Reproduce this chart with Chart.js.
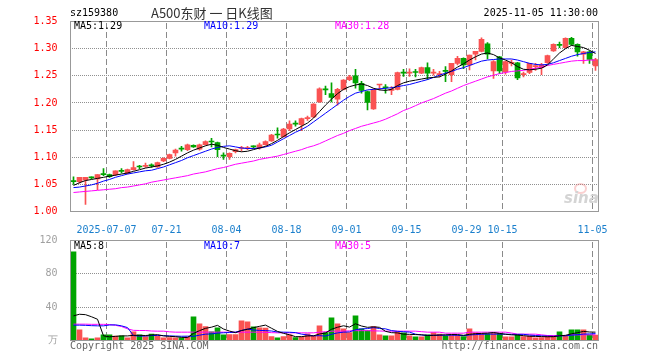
<!DOCTYPE html>
<html>
<head>
<meta charset="utf-8">
<script src="https://cdn.jsdelivr.net/npm/chart.js@4.4.1/dist/chart.umd.min.js"></script>
<style>
  body { margin: 0; background: #fff; }
  #wrap { position: relative; width: 660px; height: 360px; overflow: hidden; font-family: 'DejaVu Sans Mono', monospace; font-size: 10px; }
  canvas { position: absolute; left: 0; }
  .t { position: absolute; white-space: nowrap; line-height: 12px; }
</style>
</head>
<body>
<div id="wrap">
  <canvas id="kline" width="660" height="236" style="top:0"></canvas>
  <canvas id="vol" width="660" height="134" style="top:226px"></canvas>

  <div class="t" style="left:70px;top:7px;color:#000">sz159380</div>
  <div class="t" style="left:151px;top:5px;color:#333;font-family:'Noto Sans CJK SC';font-size:13px;line-height:16px">A500东财 一 日K线图</div>
  <div class="t" style="right:62px;top:7px;color:#000">2025-11-05 11:30:00</div>

  <div class="t" style="left:74px;top:20px;color:#000">MA5:1.29</div>
  <div class="t" style="left:204px;top:20px;color:#0000ff">MA10:1.29</div>
  <div class="t" style="left:335px;top:20px;color:#ff00ff">MA30:1.28</div>

  <div class="t" style="left:74px;top:240px;color:#000">MA5:8</div>
  <div class="t" style="left:204px;top:240px;color:#0000ff">MA10:7</div>
  <div class="t" style="left:335px;top:240px;color:#ff00ff">MA30:5</div>

  <div style="position:absolute;left:574px;top:183px;width:9px;height:7px;border:2px solid rgba(240,120,120,0.35);border-radius:50%"></div>
  <div class="t" style="left:564px;top:190px;color:#d4d4d4;font-family:'DejaVu Sans';font-style:italic;font-weight:bold;font-size:15px;line-height:16px">sina</div>

  <div class="t" style="left:70px;top:340px;color:#666">Copyright 2025 SINA.COM</div>
  <div class="t" style="right:62px;top:340px;color:#666">http://finance.sina.com.cn</div>
</div>

<script>
// dates de cotation (jours ouvrés)
const dates = ['06-27','06-30',
  '07-01','07-02','07-03','07-04','07-07','07-08','07-09','07-10','07-11','07-14','07-15','07-16','07-17','07-18',
  '07-21','07-22','07-23','07-24','07-25','07-28','07-29','07-30','07-31',
  '08-01','08-04','08-05','08-06','08-07','08-08','08-11','08-12','08-13','08-14','08-15',
  '08-18','08-19','08-20','08-21','08-22','08-25','08-26','08-27','08-28','08-29',
  '09-01','09-02','09-03','09-04','09-05','09-08','09-09','09-10','09-11','09-12',
  '09-15','09-16','09-17','09-18','09-19','09-22','09-23','09-24','09-25','09-26','09-29','09-30',
  '10-09','10-10','10-13','10-14','10-15','10-16','10-17','10-20','10-21','10-22','10-23','10-24',
  '10-27','10-28','10-29','10-30','10-31','11-03','11-04','11-05'];

const tickDates = ['07-07','07-21','08-04','08-18','09-01','09-15','09-29','10-15','11-05'];
const tickText  = ['2025-07-07','07-21','08-04','08-18','09-01','09-15','09-29','10-15','11-05'];

const opens = [1.056,1.055,1.058,1.063,1.060,1.069,1.068,1.068,1.075,1.070,
  1.077,1.083,1.083,1.085,1.082,1.093,1.098,1.108,1.116,1.114,
  1.122,1.115,1.123,1.129,1.127,1.103,1.101,1.110,1.116,1.116,
  1.120,1.117,1.123,1.130,1.142,1.138,1.152,1.162,1.160,1.171,
  1.174,1.202,1.225,1.217,1.207,1.225,1.243,1.250,1.236,1.221,
  1.189,1.233,1.229,1.223,1.225,1.256,1.255,1.257,1.255,1.265,
  1.255,1.252,1.259,1.252,1.273,1.282,1.270,1.290,1.295,1.309,
  1.259,1.285,1.257,1.273,1.274,1.252,1.256,1.267,1.265,1.274,
  1.296,1.307,1.302,1.319,1.308,1.290,1.294,1.268];
const highs = [1.064,1.063,1.063,1.064,1.068,1.079,1.069,1.075,1.079,1.078,
  1.092,1.085,1.089,1.088,1.091,1.099,1.106,1.115,1.120,1.124,
  1.123,1.124,1.130,1.135,1.128,1.108,1.108,1.115,1.120,1.120,
  1.121,1.126,1.130,1.142,1.154,1.153,1.167,1.167,1.172,1.176,
  1.199,1.228,1.231,1.237,1.227,1.243,1.251,1.262,1.240,1.222,
  1.226,1.234,1.234,1.230,1.257,1.262,1.263,1.262,1.266,1.274,
  1.262,1.258,1.267,1.273,1.286,1.283,1.288,1.295,1.320,1.311,
  1.278,1.286,1.277,1.279,1.275,1.257,1.273,1.273,1.273,1.288,
  1.309,1.312,1.320,1.321,1.309,1.295,1.296,1.282];
const lows = [1.050,1.052,1.013,1.060,1.040,1.066,1.063,1.066,1.071,1.069,
  1.076,1.079,1.081,1.081,1.081,1.092,1.097,1.102,1.111,1.112,
  1.118,1.113,1.122,1.119,1.101,1.096,1.096,1.108,1.111,1.114,
  1.116,1.115,1.122,1.129,1.135,1.137,1.149,1.157,1.149,1.168,
  1.173,1.201,1.215,1.202,1.196,1.224,1.241,1.227,1.218,1.187,
  1.188,1.224,1.218,1.215,1.224,1.249,1.249,1.248,1.254,1.243,
  1.251,1.248,1.239,1.239,1.270,1.263,1.261,1.279,1.294,1.281,
  1.245,1.254,1.253,1.268,1.243,1.248,1.254,1.260,1.252,1.273,
  1.295,1.302,1.301,1.306,1.286,1.273,1.273,1.260];
const closes = [1.055,1.063,1.063,1.062,1.068,1.068,1.064,1.075,1.074,1.077,
  1.081,1.082,1.084,1.084,1.090,1.098,1.105,1.113,1.115,1.123,
  1.119,1.123,1.129,1.128,1.114,1.102,1.107,1.114,1.117,1.117,
  1.119,1.123,1.129,1.141,1.141,1.152,1.161,1.161,1.171,1.172,
  1.198,1.226,1.224,1.210,1.225,1.242,1.248,1.237,1.223,1.201,
  1.225,1.234,1.228,1.224,1.256,1.255,1.256,1.256,1.265,1.255,
  1.256,1.253,1.258,1.273,1.282,1.270,1.288,1.295,1.317,1.290,
  1.276,1.259,1.276,1.274,1.246,1.253,1.273,1.268,1.270,1.287,
  1.308,1.306,1.319,1.308,1.294,1.294,1.280,1.280];

const ma5 = [1.048,1.053,1.057,1.059,1.061,1.063,1.065,1.067,1.069,1.071,
  1.074,1.077,1.080,1.082,1.084,1.087,1.091,1.096,1.102,1.108,
  1.113,1.117,1.121,1.124,1.122,1.118,1.115,1.112,1.110,1.111,
  1.114,1.117,1.120,1.125,1.131,1.138,1.145,1.151,1.157,1.163,
  1.172,1.184,1.196,1.207,1.217,1.225,1.230,1.233,1.235,1.232,
  1.227,1.224,1.223,1.225,1.232,1.237,1.240,1.242,1.244,1.246,
  1.247,1.248,1.253,1.259,1.266,1.272,1.279,1.285,1.290,1.292,
  1.289,1.283,1.279,1.274,1.267,1.262,1.261,1.262,1.264,1.270,
  1.281,1.292,1.300,1.306,1.304,1.302,1.297,1.291];
const ma10 = [1.044,1.045,1.047,1.049,1.052,1.056,1.059,1.063,1.066,1.069,
  1.071,1.073,1.075,1.076,1.079,1.082,1.086,1.090,1.094,1.099,
  1.103,1.107,1.111,1.115,1.118,1.120,1.121,1.119,1.117,1.116,
  1.116,1.117,1.119,1.122,1.128,1.134,1.140,1.146,1.151,1.157,
  1.165,1.173,1.181,1.189,1.197,1.205,1.212,1.218,1.221,1.224,
  1.225,1.226,1.227,1.228,1.230,1.232,1.234,1.237,1.240,1.243,
  1.247,1.251,1.255,1.258,1.262,1.265,1.269,1.273,1.277,1.279,
  1.280,1.281,1.281,1.281,1.279,1.276,1.273,1.271,1.270,1.271,
  1.274,1.278,1.282,1.286,1.289,1.291,1.293,1.294];
const ma30 = [1.035,1.036,1.037,1.038,1.039,1.040,1.041,1.042,1.044,1.045,
  1.047,1.049,1.051,1.054,1.056,1.058,1.060,1.062,1.064,1.066,
  1.069,1.071,1.073,1.076,1.079,1.081,1.084,1.087,1.089,1.091,
  1.093,1.096,1.098,1.100,1.102,1.105,1.108,1.111,1.114,1.118,
  1.121,1.125,1.130,1.135,1.140,1.144,1.149,1.153,1.157,1.160,
  1.163,1.166,1.170,1.175,1.180,1.186,1.190,1.195,1.200,1.204,
  1.208,1.213,1.218,1.222,1.227,1.232,1.236,1.240,1.244,1.248,
  1.251,1.254,1.256,1.258,1.259,1.260,1.262,1.264,1.266,1.269,
  1.271,1.273,1.275,1.277,1.278,1.278,1.279,1.279];

// volumes en 万
const volumes = [106.4,12.8,3.2,2,3.2,6.8,6.8,5.2,5.6,3.2,
  10.4,6.8,4.8,7.6,5.6,3.2,3.6,3.2,3.2,4.4,
  28.4,20,16.8,10.4,15.2,6.8,7.2,7.2,23.6,22.4,
  16.4,15.2,14.8,4.8,3.2,4.8,6.8,3.6,4.4,8,
  5.2,17.6,9.6,27.2,20,14,9.6,29.6,14,12,
  16.8,6.8,5.6,5.6,10.8,9.2,5.6,4.4,4.4,6.8,
  9.6,7.6,5.6,6.4,6.4,4.8,14,9.2,8,8,
  8.8,8.4,4.4,4.4,6.8,4.8,5.2,3.2,3.6,5.6,
  5.6,10.4,5.6,12.8,12.8,12.8,6.4,6.4];
const volMa5 = [29.6,31.5,31,28.5,25.5,5.6,4.4,5,5.5,5.5,
  6.2,6.2,6,6.6,7,5.6,5,4.6,3.8,3.5,
  8.6,11.8,14.6,16,18.2,13.8,11.3,9.4,12,13.4,
  15.4,17,18.5,14.7,10.9,8.6,6.9,4.6,4.6,5.5,
  5.6,7.8,9,13.5,15.9,17.7,16.1,20.1,17.4,15.8,
  16.4,15.8,11,9.4,9.1,7.6,7.4,7.1,6.9,6.1,
  6.2,6.6,6.8,7.2,7.1,6.2,7.4,8.2,8.5,8.8,
  9.6,8.5,7.5,6.8,6.6,5.8,5.1,4.9,4.7,4.5,
  4.6,5.7,6.2,8,9.4,10.9,10.2,10];
const volMa10 = [18.4,18.4,18.2,17.8,17.6,17.6,18.6,18.8,17.6,15.5,
  5.9,5.3,5.4,5.9,6.1,5.8,5.5,5.3,5.1,5.2,
  5,6.4,7.6,7.9,8.9,9.3,9.6,10,12,13.8,
  12.6,12.1,11.9,11.4,10.2,10,9.9,9.5,7.6,6.7,
  5.6,5.8,5.3,7.5,9.1,10,10.3,12.9,13.9,14.3,
  15.5,14.4,14,11.9,11,10.5,10.1,7.6,6.6,6.1,
  6.3,6.3,6.3,6.4,6.2,5.8,6.6,7.1,7.5,7.7,
  7.6,7.7,7.6,7.4,7.4,7.4,6.5,6,5.6,5.3,
  5,5.6,5.6,6.4,7,7.7,7.9,8.3];
const volMa30 = [19.6,19.6,19.6,19.4,19.4,19.4,19.2,18.2,16.8,14,
  12.2,12,12,11.4,11.2,11.2,10.4,10,10,10,
  10,10,10,10,10,10,10,10,10,10,
  10,10,9.8,9.4,9.2,9.2,9.2,9.2,9.2,9.2,
  9.2,10,10.6,11.2,11.2,11.2,11.6,11.8,11.8,11.8,
  11.6,11.4,11.2,11.2,11.2,11.2,11.2,11.2,10.6,10,
  10,10,8.8,8.8,8.8,8.8,10,10,10,10,
  10,10,10,9,7.6,7.6,7.6,7.6,6.8,6,
  6,6,6,6.8,6.8,6.8,6.8,6.8];

const RED = '#fa5252';
const GREEN = '#00a400';
const candleColors = closes.map((c, k) => c >= opens[k] ? RED : GREEN);

Chart.defaults.font.family = "'DejaVu Sans Mono', monospace";
Chart.defaults.font.size = 10;

// grille : tirets verticaux aux dates affichées, pointillés horizontaux aux graduations
const gridPlugin = {
  id: 'sinaGrid',
  beforeDatasetsDraw(chart) {
    const ctx = chart.ctx, a = chart.chartArea;
    const x = chart.scales.x, y = chart.scales.y;
    const half = (x.getPixelForValue(1) - x.getPixelForValue(0)) / 2;
    const top = Math.ceil(a.top), bottom = Math.floor(a.bottom);
    const left = Math.ceil(a.left), right = Math.floor(a.right);
    ctx.save();
    ctx.fillStyle = '#8a8a8a';
    for (let i = 0; i < dates.length; i++) {
      if (tickDates.indexOf(dates[i]) < 0) continue;
      const px = Math.floor(x.getPixelForValue(i) - half);
      for (let yy = top + 1; yy < bottom; yy += 9) {
        ctx.fillRect(px, yy, 1, Math.min(6, bottom - yy));
      }
    }
    ctx.fillStyle = '#909090';
    const yt = y.ticks;
    for (let k = 1; k < yt.length - 1; k++) {
      const py = Math.floor(y.getPixelForValue(yt[k].value));
      for (let xx = left + 1; xx < right; xx += 2) {
        ctx.fillRect(xx, py, 1, 1);
      }
    }
    ctx.restore();
  }
};

// cadre autour de la zone de tracé
const framePlugin = {
  id: 'frame',
  afterDraw(chart) {
    const ctx = chart.ctx, a = chart.chartArea;
    ctx.save();
    ctx.strokeStyle = '#999';
    ctx.lineWidth = 1;
    ctx.strokeRect(Math.floor(a.left) + 0.5, Math.floor(a.top) + 0.5,
      Math.floor(a.right) - Math.floor(a.left), Math.floor(a.bottom) - Math.floor(a.top));
    ctx.restore();
  }
};

function maLine(data, color) {
  return { type: 'line', data: data, borderColor: color, borderWidth: 1, pointRadius: 0, fill: false, tension: 0, order: 0 };
}

// graphique K
new Chart(document.getElementById('kline'), {
  type: 'bar',
  data: {
    labels: dates,
    datasets: [
      maLine(ma5, '#000000'),
      maLine(ma10, '#0000ff'),
      maLine(ma30, '#ff00ff'),
      { data: opens.map((o, k) => [o, closes[k]]), backgroundColor: candleColors, barThickness: 5, minBarLength: 1, grouped: false, order: 1 },
      { data: lows.map((l, k) => [l, highs[k]]), backgroundColor: candleColors, barThickness: 1, grouped: false, order: 2 }
    ]
  },
  options: {
    responsive: false,
    animation: false,
    devicePixelRatio: 1,
    layout: { padding: { top: 21.5, right: 61.5, left: 0, bottom: 0 } },
    plugins: { legend: { display: false }, tooltip: { enabled: false } },
    scales: {
      x: {
        grid: { display: false },
        border: { display: false },
        ticks: {
          autoSkip: false, maxRotation: 0, minRotation: 0, padding: 5, labelOffset: -3, color: '#1a7fcc',
          callback: (v, i) => { const k = tickDates.indexOf(dates[i]); return k >= 0 ? tickText[k] : ''; }
        },
        afterFit: s => { s.height = 24.5; }
      },
      y: {
        min: 1.00, max: 1.35,
        grid: { display: false },
        border: { display: false },
        ticks: { stepSize: 0.05, padding: 5, color: '#ff0000', callback: v => v.toFixed(2) },
        afterFit: s => { s.width = 70.5; }
      }
    }
  },
  plugins: [gridPlugin, framePlugin]
});

// graphique des volumes
new Chart(document.getElementById('vol'), {
  type: 'bar',
  data: {
    labels: dates,
    datasets: [
      maLine(volMa5, '#000000'),
      maLine(volMa10, '#0000ff'),
      maLine(volMa30, '#ff00ff'),
      { data: volumes, backgroundColor: candleColors, barThickness: 5, order: 1 }
    ]
  },
  options: {
    responsive: false,
    animation: false,
    devicePixelRatio: 1,
    layout: { padding: { top: 14.5, right: 61.5, left: 0, bottom: 19.5 } },
    plugins: { legend: { display: false }, tooltip: { enabled: false } },
    scales: {
      x: {
        grid: { display: false },
        border: { display: false },
        ticks: { display: false, autoSkip: false },
        afterFit: s => { s.height = 0; }
      },
      y: {
        min: 0, max: 120,
        grid: { display: false },
        border: { display: false },
        ticks: { stepSize: 40, padding: 5, color: '#a0a0a0', callback: v => v === 0 ? '万' : v },
        afterFit: s => { s.width = 70.5; }
      }
    }
  },
  plugins: [gridPlugin, framePlugin]
});
</script>
</body>
</html>
